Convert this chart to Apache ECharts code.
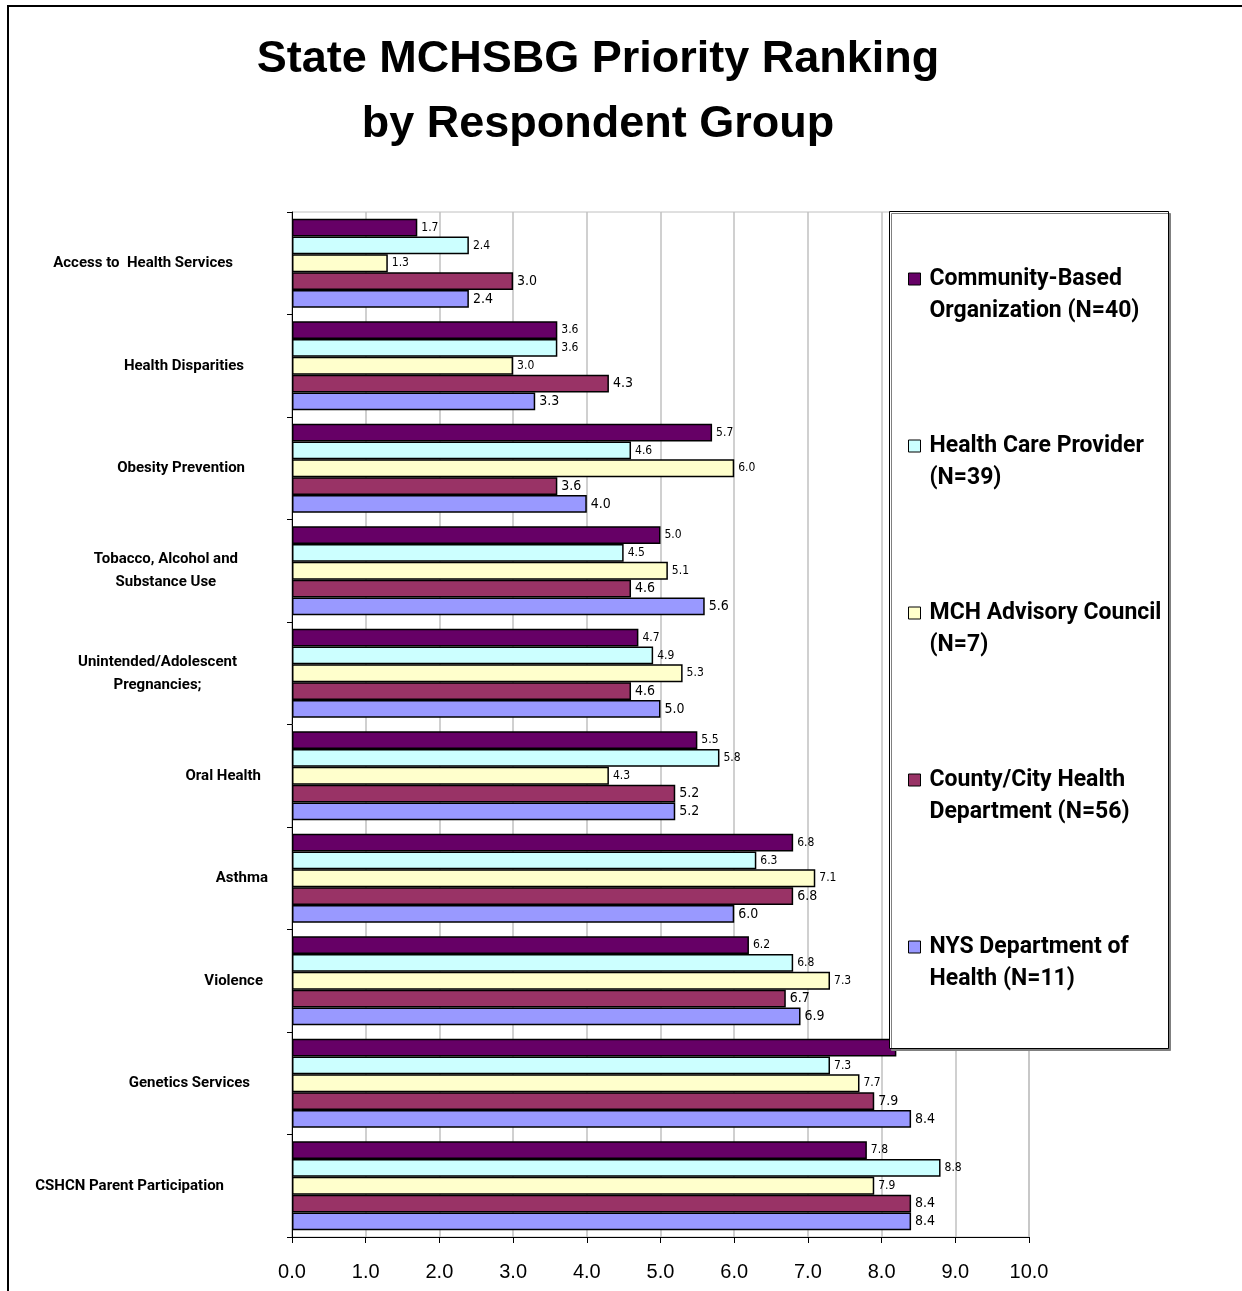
<!DOCTYPE html>
<html>
<head>
<meta charset="utf-8">
<style>html,body{margin:0;padding:0;background:#fff;}#chart{width:1242px;height:1291px;}</style>
<script src="https://cdn.jsdelivr.net/npm/echarts@6/dist/echarts.min.js"></script>
</head>
<body>
<div id="chart"></div>
<script>
const categories = [
  'Access to  Health Services',
  'Health Disparities',
  'Obesity Prevention',
  'Tobacco, Alcohol and\nSubstance Use',
  'Unintended/Adolescent\nPregnancies;',
  'Oral Health',
  'Asthma',
  'Violence',
  'Genetics Services',
  'CSHCN Parent Participation'
];
const seriesNames = [
  'Community-Based\nOrganization (N=40)',
  'Health Care Provider\n(N=39)',
  'MCH Advisory Council\n(N=7)',
  'County/City Health\nDepartment (N=56)',
  'NYS Department of\nHealth (N=11)'
];
const communityBased = [1.7, 3.6, 5.7, 5.0, 4.7, 5.5, 6.8, 6.2, 8.2, 7.8];
const healthCareProvider = [2.4, 3.6, 4.6, 4.5, 4.9, 5.8, 6.3, 6.8, 7.3, 8.8];
const mchAdvisory = [1.3, 3.0, 6.0, 5.1, 5.3, 4.3, 7.1, 7.3, 7.7, 7.9];
const countyCity = [3.0, 4.3, 3.6, 4.6, 4.6, 5.2, 6.8, 6.7, 7.9, 8.4];
const nysDoh = [2.4, 3.3, 4.0, 5.6, 5.0, 5.2, 6.0, 6.9, 8.4, 8.4];
const xTicks = [0, 1, 2, 3, 4, 5, 6, 7, 8, 9, 10];

const allValues = [communityBased, healthCareProvider, mchAdvisory, countyCity, nysDoh];
const colors = ['#660066', '#CCFFFF', '#FFFFCC', '#993366', '#9999FF'];
const labelSizes = [12, 12, 12, 14, 14];
const labelPads = [51, 40, 39, 46, 47, 23, 16, 21, 34, 60];
const narrowFont = "Roboto, 'Liberation Sans', sans-serif";

const rich = {};
labelPads.forEach((p, i) => {
  rich['c' + i] = {
    fontFamily: narrowFont,
    fontWeight: 'bold', fontSize: 15, lineHeight: 23, color: '#000',
    align: 'center', padding: [0, p, 0, 0]
  };
});

const chart = echarts.init(document.getElementById('chart'), null, {renderer: 'canvas'});
const option = {
  backgroundColor: '#fff',
  animation: false,
  title: {
    text: 'State MCHSBG Priority Ranking\nby Respondent Group',
    left: 593, top: 22, textAlign: 'center',
    textStyle: {fontFamily: "'Liberation Sans', Arial, sans-serif", fontWeight: 'bold', fontSize: 45, lineHeight: 65, color: '#000'}
  },
  graphic: [
    {type: 'rect', z: 0, silent: true, shape: {x: 8, y: 6, width: 1260, height: 1320},
     style: {fill: 'none', stroke: '#000', lineWidth: 2}},
    {type: 'rect', z: 10, silent: true, shape: {x: 889.5, y: 211.5, width: 279, height: 837},
     style: {fill: '#fff', stroke: '#000', lineWidth: 1, shadowColor: '#808080', shadowOffsetX: 2, shadowOffsetY: 2, shadowBlur: 0}}
  ],
  legend: {
    z: 20, orient: 'vertical', left: 908, top: 231, padding: 0,
    itemWidth: 12, itemHeight: 12, itemGap: 71,
    icon: 'rect',
    itemStyle: {borderColor: '#000', borderWidth: 1},
    formatter: name => '\n' + name.split('\n').map(l => '{t|' + l + '}').join('\n'),
    textStyle: {
      fontFamily: narrowFont,
      fontWeight: 'bold', fontSize: 23, lineHeight: 32, color: '#000',
      rich: {t: {fontFamily: narrowFont, fontWeight: 'bold', fontSize: 23, lineHeight: 32, color: '#000', padding: [0, 0, 0, 4]}}
    },
    data: seriesNames
  },
  grid: {left: 292, right: 213, top: 212, bottom: 54, show: true, borderColor: '#c0c0c0', borderWidth: 1, backgroundColor: 'transparent'},
  xAxis: {
    type: 'value', min: xTicks[0], max: xTicks[xTicks.length - 1], interval: 1,
    axisLine: {show: true, lineStyle: {color: '#000', width: 1}},
    axisTick: {show: true, length: 6, lineStyle: {color: '#000'}},
    splitLine: {show: true, lineStyle: {color: '#c0c0c0', width: 1.5}},
    axisLabel: {margin: 25, formatter: v => v.toFixed(1), fontFamily: "'Liberation Sans', Arial, sans-serif", fontSize: 20, color: '#000'}
  },
  yAxis: {
    type: 'category', inverse: true, data: categories,
    axisLine: {show: true, lineStyle: {color: '#000', width: 1}},
    axisTick: {show: true, length: 5, lineStyle: {color: '#000'}},
    axisLabel: {
      margin: 8,
      formatter: (v, i) => v.split('\n').map(l => '{c' + i + '|' + l + '}').join('\n'),
      rich: rich
    }
  },
  series: allValues.map((vals, s) => ({
    name: seriesNames[s], type: 'bar', data: vals,
    barGap: '0%', barCategoryGap: '13%',
    itemStyle: {color: colors[s], borderColor: '#000', borderWidth: 1.5},
    label: {
      show: true, position: 'right', distance: 4,
      formatter: p => p.value.toFixed(1),
      fontFamily: "'DejaVu Sans Condensed', 'DejaVu Sans', sans-serif",
      fontSize: labelSizes[s], color: '#000'
    }
  }))
};
chart.setOption(option);
</script>
</body>
</html>
